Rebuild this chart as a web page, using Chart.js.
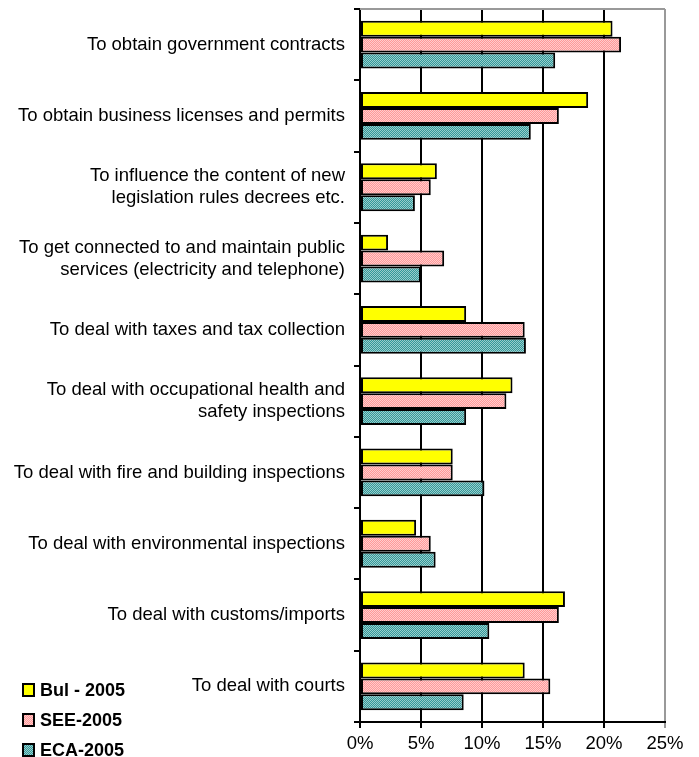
<!DOCTYPE html>
<html>
<head>
<meta charset="utf-8">
<script src="https://cdn.jsdelivr.net/npm/chart.js@4"></script>
<style>
  html, body { margin: 0; padding: 0; background: #fff; }
  #wrap { width: 699px; height: 757px; }
</style>
</head>
<body>
<div id="wrap"><canvas id="Chart1" width="699" height="757"></canvas></div>
<script>
const labels = [
  "To obtain government contracts",
  "To obtain business licenses and permits",
  ["To influence the content of new", "legislation rules decrees etc."],
  ["To get connected to and maintain public", "services (electricity and telephone)"],
  "To deal with taxes and tax collection",
  ["To deal with occupational health and", "safety inspections"],
  "To deal with fire and building inspections",
  "To deal with environmental inspections",
  "To deal with customs/imports",
  "To deal with courts"
];
const seriesNames = ["Bul - 2005", "SEE-2005", "ECA-2005"];
const bul2005 = [20.7, 18.7, 6.3, 2.3, 8.7, 12.5, 7.6, 4.6, 16.8, 13.5];
const see2005 = [21.4, 16.3, 5.8, 6.9, 13.5, 12.0, 7.6, 5.8, 16.3, 15.6];
const eca2005 = [16.0, 14.0, 4.5, 5.0, 13.6, 8.7, 10.2, 6.2, 10.6, 8.5];
const xTicks = [0, 5, 10, 15, 20, 25];

// small checker patterns like the old excel fills
function checker(a, b) {
  const c = document.createElement("canvas");
  c.width = 2; c.height = 2;
  const g = c.getContext("2d");
  g.fillStyle = a; g.fillRect(0, 0, 2, 2);
  g.fillStyle = b; g.fillRect(0, 0, 1, 1); g.fillRect(1, 1, 1, 1);
  return g.createPattern(c, "repeat");
}
const fills = ["#FFFF00", checker("#FF9999", "#FFCCCC"), checker("#339999", "#99CCCC")];

const font = { family: "'Liberation Sans', Arial, sans-serif", size: 18.5 };

const extras = {
  id: "extras",
  afterDraw(chart) {
    const c = chart.ctx, a = chart.chartArea;
    c.save();
    // grey top border of plot area
    c.strokeStyle = "#999";
    c.lineWidth = 2;
    c.beginPath();
    c.moveTo(a.left, a.top);
    c.lineTo(a.right, a.top);
    c.stroke();
    // legend at bottom left
    const ys = [690, 720, 750];
    c.font = "bold 18px 'Liberation Sans', Arial, sans-serif";
    c.textBaseline = "middle";
    for (let i = 0; i < seriesNames.length; i++) {
      c.fillStyle = fills[i];
      c.fillRect(23, ys[i] - 6, 11, 12);
      c.strokeStyle = "#000";
      c.lineWidth = 2;
      c.strokeRect(23, ys[i] - 6, 11, 12);
      c.fillStyle = "#000";
      c.fillText(seriesNames[i], 40, ys[i] + 1);
    }
    c.restore();
  }
};

const data1 = {
  labels: labels,
  datasets: [bul2005, see2005, eca2005].map((d, i) => ({
    label: seriesNames[i],
    data: d,
    backgroundColor: fills[i],
    borderColor: "#000",
    borderWidth: 2,
    borderSkipped: false,
    barPercentage: 1,
    categoryPercentage: 0.67
  }))
};

const config1 = {
  type: "bar",
  data: data1,
  plugins: [extras],
  options: {
    indexAxis: "y",
    responsive: false,
    animation: false,
    layout: { padding: { top: 9, right: 34, left: 0, bottom: 0 } },
    scales: {
      x: {
        min: 0,
        max: 25,
        afterBuildTicks: s => { s.ticks = xTicks.map(v => ({ value: v })); },
        afterFit: s => { s.height = 35; s.paddingLeft = 0; s.paddingRight = 0; },
        ticks: { color: "#000", font: font, padding: 5, maxRotation: 0, callback: v => v + "%" },
        grid: {
          color: c => (c.tick && c.tick.value === 25 ? "#999" : "#000"),
          lineWidth: 2,
          tickLength: 6
        },
        border: { color: "#000", width: 2 }
      },
      y: {
        afterFit: s => { s.width = 360; s.paddingTop = 0; s.paddingBottom = 0; },
        ticks: { color: "#000", font: font, padding: 9, lineHeight: 1.25 },
        grid: { drawOnChartArea: false, color: "#000", lineWidth: 2, tickLength: 6 },
        border: { color: "#000", width: 2 }
      }
    },
    plugins: {
      legend: { display: false },
      tooltip: { enabled: false }
    }
  }
};

var myChart1 = new Chart(document.getElementById("Chart1"), config1);
</script>
</body>
</html>
